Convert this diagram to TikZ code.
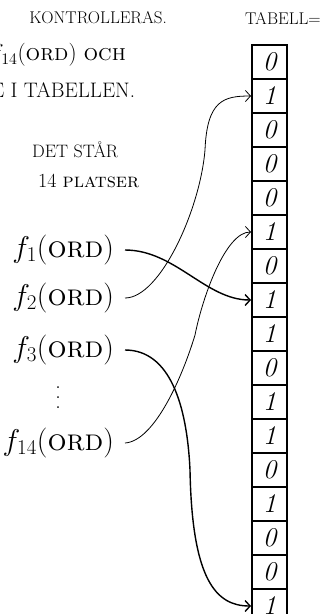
\RequirePackage{fix-cm}
\documentclass[tikz,border=0pt]{standalone}
\usepackage{tikz}
\usetikzlibrary{arrows.meta}

\begin{document}
\begin{tikzpicture}[x=1pt,y=-1pt,
    note/.style={inner sep=0pt,anchor=west,font=\fontsize{17}{17}\selectfont},
    func/.style={inner sep=0pt,outer xsep=11pt,anchor=east,font=\fontsize{30}{30}\selectfont},
    cell/.style={draw,line width=2pt,minimum width=35pt,minimum height=34pt,inner sep=0pt,
                 font=\fontsize{27}{27}\selectfont\itshape},
    link/.style={line width=1.4pt,-{Straight Barb[length=5pt,width=11pt]}},
    faint link/.style={link,line width=0.8pt}]
  \useasboundingbox (0,0) rectangle (331,614);
  \clip (0,0) rectangle (331,614);

  \node[note,anchor=center] (kontroll) at (98,18) {KONTROLLERAS.};
  \node[note] (tabell) at (245,18) {TABELL=};
  \node[note,font=\fontsize{23}{23}\selectfont] (rad1) at (-10,55) {$f_{14}$(\textsc{ord}) \textsc{och}};
  \node[note,font=\fontsize{21}{21}\selectfont] (rad2) at (-9,90) {E I TABELLEN.};
  \node[note,font=\fontsize{18}{18}\selectfont] (detstar) at (32,150) {DET STÅR};
  \node[note,font=\fontsize{20}{20}\selectfont] (platser) at (38,181) {14 \textsc{platser}};

  \foreach \v [count=\i] in {0,1,0,0,0,1,0,1,1,0,1,1,0,1,0,0,1}
    \node[cell] (c\i) at (269.5,{28+34*\i}) {\v};

  \node[func] (f1) at (125,250) {$f_1$(\textsc{ord})};
  \node[func] (f2) at (125,298) {$f_2$(\textsc{ord})};
  \node[func] (f3) at (125,350) {$f_3$(\textsc{ord})};
  \node[inner sep=0pt,align=center,font=\fontsize{22}{10}\selectfont] (prickar) at (58,398) {.\\.\\.};
  \node[func] (f14) at (125,443) {$f_{14}$(\textsc{ord})};

  \coordinate (k2) at (205,150);
  \coordinate (k14) at (195,335);
  \coordinate (k3) at (190,470);

  \draw[link] (f1.east) .. controls +(50,0) and +(-45,0) .. (c8.west);
  \draw[faint link] (f2.east) .. controls +(35,0) and +(-5,60) .. (k2)
    .. controls +(2,-50) and +(-27,0) .. (c2.west);
  \draw[link] (f3.east) .. controls +(45,0) and +(-3,-65) .. (k3)
    .. controls +(2,110) and +(-35,0) .. (c17.west);
  \draw[faint link] (f14.east) .. controls +(30,-2) and +(-12,40) .. (k14)
    .. controls +(8,-40) and +(-25,0) .. (c6.west);
\end{tikzpicture}
\end{document}
